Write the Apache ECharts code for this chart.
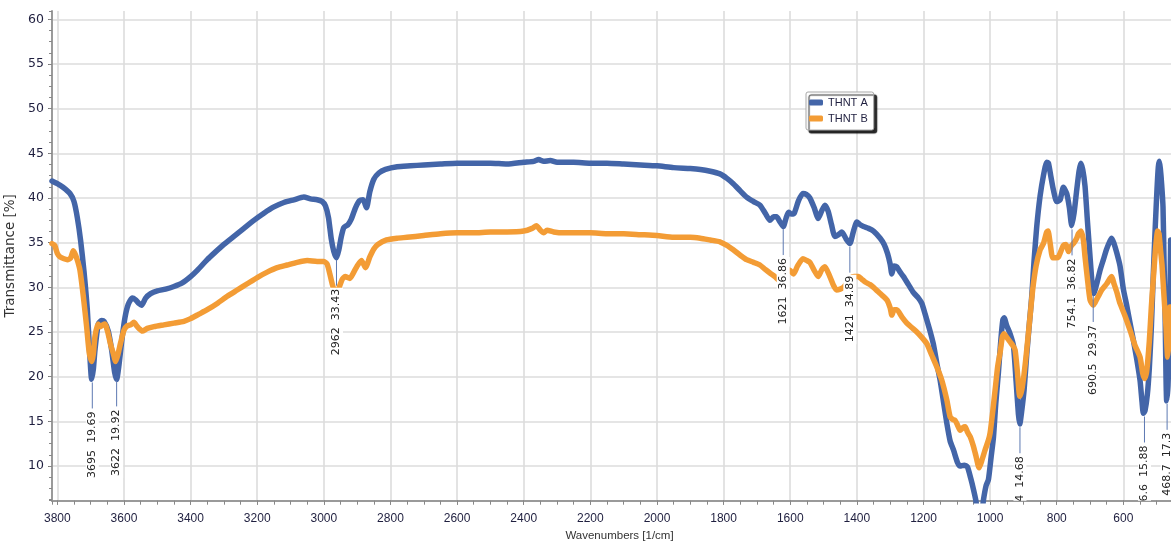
<!DOCTYPE html>
<html><head><meta charset="utf-8">
<script src="https://cdn.jsdelivr.net/npm/echarts@6/dist/echarts.min.js"></script>
<style>html,body{margin:0;padding:0;background:#fff}#c{width:1171px;height:542px}</style>
</head><body><div id="c"></div>
<script>
const seriesNames = ['THNT A', 'THNT B'];
const waveA = [3816,3800,3783,3762,3750,3740,3730,3720,3710,3703,3697,3692,3687,3677,3667,3660,3647,3637,3628,3622,3615,3606,3597,3587,3575,3565,3555,3547,3535,3520,3500,3475,3450,3425,3400,3380,3350,3330,3300,3270,3240,3210,3180,3150,3120,3090,3060,3040,3020,3005,2995,2986,2978,2970,2962,2955,2948,2940,2928,2918,2905,2893,2882,2872,2862,2850,2835,2815,2780,2740,2700,2650,2600,2550,2500,2450,2400,2370,2355,2340,2320,2300,2250,2200,2150,2100,2050,2000,1950,1900,1870,1840,1811,1790,1771,1750,1731,1710,1691,1675,1661,1650,1641,1632,1621,1612,1605,1596,1588,1575,1562,1552,1541,1528,1516,1505,1496,1486,1476,1466,1455,1445,1432,1421,1410,1400,1390,1380,1365,1350,1330,1318,1308,1300,1295,1288,1280,1270,1260,1245,1230,1215,1205,1195,1181,1170,1160,1150,1140,1130,1120,1110,1098,1090,1078,1068,1058,1050,1043,1035,1026,1020,1012,1005,997,990,983,975,968,962,958,950,940,930,922,915,911,905,898,890,882,875,868,860,850,840,830,825,818,810,800,790,780,770,762,755,748,740,733,728,722,715,708,700,694,689,680,670,660,650,640,635,628,620,610,600,590,580,570,560,550,544,540,535,528,522,516,510,504,499,495,492,489,485,481,478,475,472,470,466,462,458];
const thntA = [41.9,41.6,41.2,40.5,39.6,37.8,35.2,31.8,27.5,22.8,19.7,20.8,23.0,25.9,26.3,26.2,25.1,23.0,20.5,19.7,21.3,24.2,26.6,28.1,28.8,28.6,28.2,28.0,28.8,29.3,29.6,29.8,30.1,30.5,31.2,31.9,33.1,33.8,34.8,35.7,36.6,37.5,38.3,39.0,39.5,39.8,40.1,39.9,39.8,39.6,39.1,37.8,35.5,34.0,33.3,34.2,35.6,36.7,37.0,37.6,38.9,39.7,39.8,38.9,40.7,42.1,42.8,43.2,43.5,43.6,43.7,43.8,43.9,43.9,43.9,43.8,44.0,44.1,44.3,44.1,44.2,44.0,44.0,43.9,43.9,43.8,43.7,43.6,43.4,43.3,43.2,43.0,42.7,42.2,41.6,40.8,40.1,39.6,39.2,38.3,37.5,37.9,37.9,37.4,36.8,37.8,38.4,38.2,38.3,39.7,40.5,40.4,40.0,38.9,37.7,38.6,39.2,38.5,37.0,35.7,35.9,36.2,35.4,34.9,36.3,37.3,37.0,36.8,36.6,36.3,35.5,34.8,33.8,32.6,31.5,32.4,32.3,31.7,31.2,30.3,29.4,28.8,28.2,27.0,25.2,23.6,21.5,19.6,17.2,14.8,12.8,11.8,10.4,10.0,10.1,9.9,8.6,7.4,6.2,4.5,4.5,6.2,7.8,8.5,11.0,13.2,17.0,20.5,24.0,26.3,26.6,25.7,24.8,23.5,19.5,15.8,14.7,16.2,18.5,22.5,26.0,29.0,33.0,36.8,40.2,42.5,44.0,43.9,42.5,40.9,39.6,39.8,41.2,40.5,38.9,36.9,38.3,40.9,43.0,43.9,43.2,41.3,37.5,33.4,30.5,29.3,30.4,31.9,33.1,34.3,35.2,35.5,34.9,33.9,32.4,29.8,28.0,26.0,24.1,22.0,19.6,17.2,15.9,16.2,18.0,21.0,25.5,31.6,37.0,41.0,43.5,44.1,43.3,41.5,39.0,33.0,27.8,20.0,17.3,19.0,24.1,35.3];
const waveB = [3816,3808,3800,3792,3780,3770,3760,3752,3745,3738,3732,3722,3712,3704,3697,3692,3687,3678,3670,3663,3657,3648,3640,3632,3625,3618,3610,3600,3590,3580,3570,3562,3555,3545,3530,3510,3480,3450,3420,3400,3375,3350,3320,3290,3260,3230,3200,3170,3140,3110,3080,3050,3020,3000,2990,2982,2975,2968,2960,2952,2945,2936,2922,2910,2900,2887,2875,2862,2850,2838,2812,2780,2750,2700,2650,2600,2550,2500,2450,2400,2375,2362,2350,2340,2330,2310,2280,2250,2200,2150,2100,2050,2000,1950,1900,1870,1840,1811,1790,1771,1750,1731,1710,1691,1675,1661,1646,1635,1625,1612,1601,1590,1578,1562,1550,1541,1528,1516,1505,1496,1481,1470,1461,1450,1440,1430,1420,1408,1395,1385,1375,1360,1350,1330,1310,1300,1295,1288,1280,1265,1250,1235,1220,1205,1190,1175,1160,1145,1130,1120,1112,1105,1098,1090,1082,1075,1068,1060,1050,1043,1033,1025,1015,1005,1000,993,985,977,970,963,958,950,940,932,925,918,911,905,898,890,880,872,862,850,840,830,826,820,812,803,795,780,772,765,757,748,740,735,727,720,715,708,700,690,685,675,665,650,640,635,628,620,610,595,580,565,550,542,536,530,522,516,510,503,497,493,488,484,478,472,467,463,460];
const thntB = [34.9,34.7,33.8,33.4,33.2,33.1,33.3,34.1,33.6,32.8,31.9,29.0,25.6,22.6,21.7,22.5,24.5,25.9,25.6,25.8,25.9,24.9,23.6,22.6,21.7,22.5,23.8,25.2,25.7,25.8,26.1,25.7,25.4,25.1,25.4,25.6,25.8,26.0,26.2,26.5,27.0,27.5,28.2,29.0,29.7,30.4,31.1,31.7,32.2,32.5,32.8,33.0,32.9,32.9,32.6,31.5,30.4,29.6,29.5,30.2,30.9,31.2,31.0,31.7,32.4,33.0,32.2,33.4,34.3,34.8,35.3,35.5,35.6,35.8,36.0,36.1,36.1,36.2,36.2,36.3,36.6,36.9,36.4,36.1,36.4,36.2,36.1,36.1,36.1,36.0,36.0,35.9,35.8,35.6,35.6,35.5,35.3,35.1,34.7,34.2,33.6,33.1,32.8,32.5,32.0,31.6,31.2,30.8,31.5,32.0,31.9,31.5,32.4,33.2,33.0,32.8,31.9,31.2,32.0,32.3,31.2,30.2,29.7,29.8,30.0,30.5,31.0,31.2,31.2,30.9,30.6,30.3,30.0,29.3,28.6,27.7,26.9,27.5,27.5,26.7,26.0,25.5,25.0,24.4,23.7,22.4,21.1,19.6,17.4,15.5,15.2,15.1,14.6,14.0,14.3,14.4,13.8,13.3,12.2,11.2,9.8,10.6,11.8,12.9,13.7,15.8,18.5,21.2,22.7,24.5,24.8,24.4,23.9,23.5,23.0,20.5,17.8,18.5,20.3,23.0,26.8,29.8,32.4,34.2,34.9,36.2,36.3,35.0,33.3,33.3,33.4,34.7,34.8,34.0,34.6,35.0,35.5,36.0,36.3,35.3,33.4,31.0,28.6,28.0,28.3,29.0,29.7,30.4,31.0,31.2,30.4,29.5,28.2,26.8,25.2,23.5,22.2,20.4,19.8,20.6,24.0,27.8,31.0,34.5,36.3,36.0,34.0,32.5,29.0,25.6,22.2,24.0,27.8];
const peakWave = [3695,3622,2962,1621,1421,910.4,754.1,690.5,536.6,468.7];
const peakValue = [19.69,19.92,33.43,36.86,34.89,14.68,36.82,29.37,15.88,17.3];
const peakWaveText = ['3695','3622','2962','1621','1421','910.4','754.1','690.5','536.6','468.7'];
const peakValueText = ['19.69','19.92','33.43','36.86','34.89','14.68','36.82','29.37','15.88','17.3'];

const X_MIN = 457, X_MAX = 3816, Y_MIN = 6.12, Y_MAX = 60.93;
const labelColor = '#1f1f3f';
const axisGray = '#9a9a9a';

const chart = echarts.init(document.getElementById('c'), null, {renderer: 'canvas'});
const baseX = {type: 'value', inverse: true, min: X_MIN, max: X_MAX, position: 'bottom', gridIndex: 0};
const baseY = {type: 'value', min: Y_MIN, max: Y_MAX, position: 'left', gridIndex: 0};
chart.setOption({
  animation: false,
  backgroundColor: '#fff',
  grid: {left: 52, right: 0, top: 11, bottom: 41.3, containLabel: false, outerBoundsMode: 'none'},
  legend: {
    data: seriesNames, orient: 'vertical', left: 806, top: 92, z: 20, zlevel: 1,
    icon: 'roundRect', itemWidth: 14, itemHeight: 6, itemGap: 5,
    padding: [5, 6, 6, 3], backgroundColor: '#ffffff', borderColor: '#a8a8a8', borderWidth: 1, borderRadius: 2,
    shadowColor: 'rgba(0,0,0,0.85)', shadowBlur: 1, shadowOffsetX: 3, shadowOffsetY: 3,
    textStyle: {color: labelColor, fontFamily: 'Liberation Sans', fontSize: 11}
  },
  xAxis: [
    Object.assign({}, baseX, {
      minInterval: 200, maxInterval: 200,
      name: 'Wavenumbers [1/cm]', nameLocation: 'middle', nameGap: 28,
      nameTextStyle: {color: '#333', fontFamily: 'Liberation Sans', fontSize: 11.5, padding: [0, 0, 0, 16]},
      axisLine: {show: true, onZero: false, lineStyle: {color: axisGray, width: 2}},
      axisTick: {show: true, length: 4, lineStyle: {color: '#777', width: 1}},
      axisLabel: {show: true, margin: 12, color: labelColor, fontFamily: 'Liberation Sans', fontSize: 12,
                  showMinLabel: false, showMaxLabel: false, formatter: v => String(v)},
      splitLine: {show: true, showMinLine: false, showMaxLine: false, lineStyle: {color: '#dcdcdc', width: 1.6}},
      minorTick: {show: false}, minorSplitLine: {show: false}
    }),
    Object.assign({}, baseX, {
      minInterval: 50, maxInterval: 50,
      axisLine: {show: false}, axisLabel: {show: false}, splitLine: {show: false},
      axisTick: {show: true, length: 4, lineStyle: {color: '#888', width: 1}}
    })
  ],
  yAxis: [
    Object.assign({}, baseY, {
      minInterval: 5, maxInterval: 5,
      name: 'Transmittance [%]', nameLocation: 'middle', nameGap: 24, nameRotate: 90,
      nameTextStyle: {color: '#333', fontFamily: 'DejaVu Sans', fontSize: 13.5},
      axisLine: {show: true, onZero: false, lineStyle: {color: axisGray, width: 2}},
      axisTick: {show: true, length: 4, lineStyle: {color: '#777', width: 1}},
      axisLabel: {show: true, margin: 8, color: labelColor, fontFamily: 'DejaVu Sans', fontSize: 12.5, showMinLabel: false, showMaxLabel: false},
      splitLine: {show: true, showMinLine: false, showMaxLine: false, lineStyle: {color: '#dcdcdc', width: 1.6}},
      minorTick: {show: false}, minorSplitLine: {show: false}
    }),
    Object.assign({}, baseY, {
      minInterval: 1.25, maxInterval: 1.25,
      axisLine: {show: false}, axisLabel: {show: false}, splitLine: {show: false},
      axisTick: {show: true, length: 3, lineStyle: {color: '#888', width: 1}}
    })
  ],
  series: [
    {
      name: seriesNames[0], type: 'line', xAxisIndex: 0, yAxisIndex: 0,
      data: waveA.map((w, i) => [w, thntA[i]]),
      showSymbol: false, symbol: 'none', smooth: 0.2, clip: true, z: 2,
      color: '#4365a8',
      lineStyle: {color: '#4365a8', width: 5.5, cap: 'round', join: 'round'}
    },
    {
      name: seriesNames[1], type: 'line', xAxisIndex: 0, yAxisIndex: 0,
      data: waveB.map((w, i) => [w, thntB[i]]),
      showSymbol: false, symbol: 'none', smooth: 0.2, clip: true, z: 3,
      color: '#f39c35',
      lineStyle: {color: '#f39c35', width: 5.5, cap: 'round', join: 'round'}
    },
    {
      type: 'custom', xAxisIndex: 0, yAxisIndex: 0, clip: true, z: 4, silent: true,
      data: peakWave.map((w, i) => [w, peakValue[i], i]),
      encode: {x: 0, y: 1},
      renderItem: function (params, api) {
        const p = api.coord([api.value(0), api.value(1)]);
        const i = api.value(2);
        return {
          type: 'group',
          children: [
            {type: 'line', shape: {x1: p[0], y1: p[1] + 3, x2: p[0], y2: p[1] + 29},
             style: {stroke: '#5d79b2', lineWidth: 1}},
            {type: 'text', x: p[0], y: p[1] + 31, rotation: Math.PI / 2,
             style: {text: peakWaveText[i] + '  ' + peakValueText[i], align: 'right', verticalAlign: 'middle',
                     fill: '#222', font: '11px "DejaVu Sans"', backgroundColor: '#fff', padding: [1, 1, 1, 2]}}
          ]
        };
      }
    }
  ]
});
</script>
</body></html>
